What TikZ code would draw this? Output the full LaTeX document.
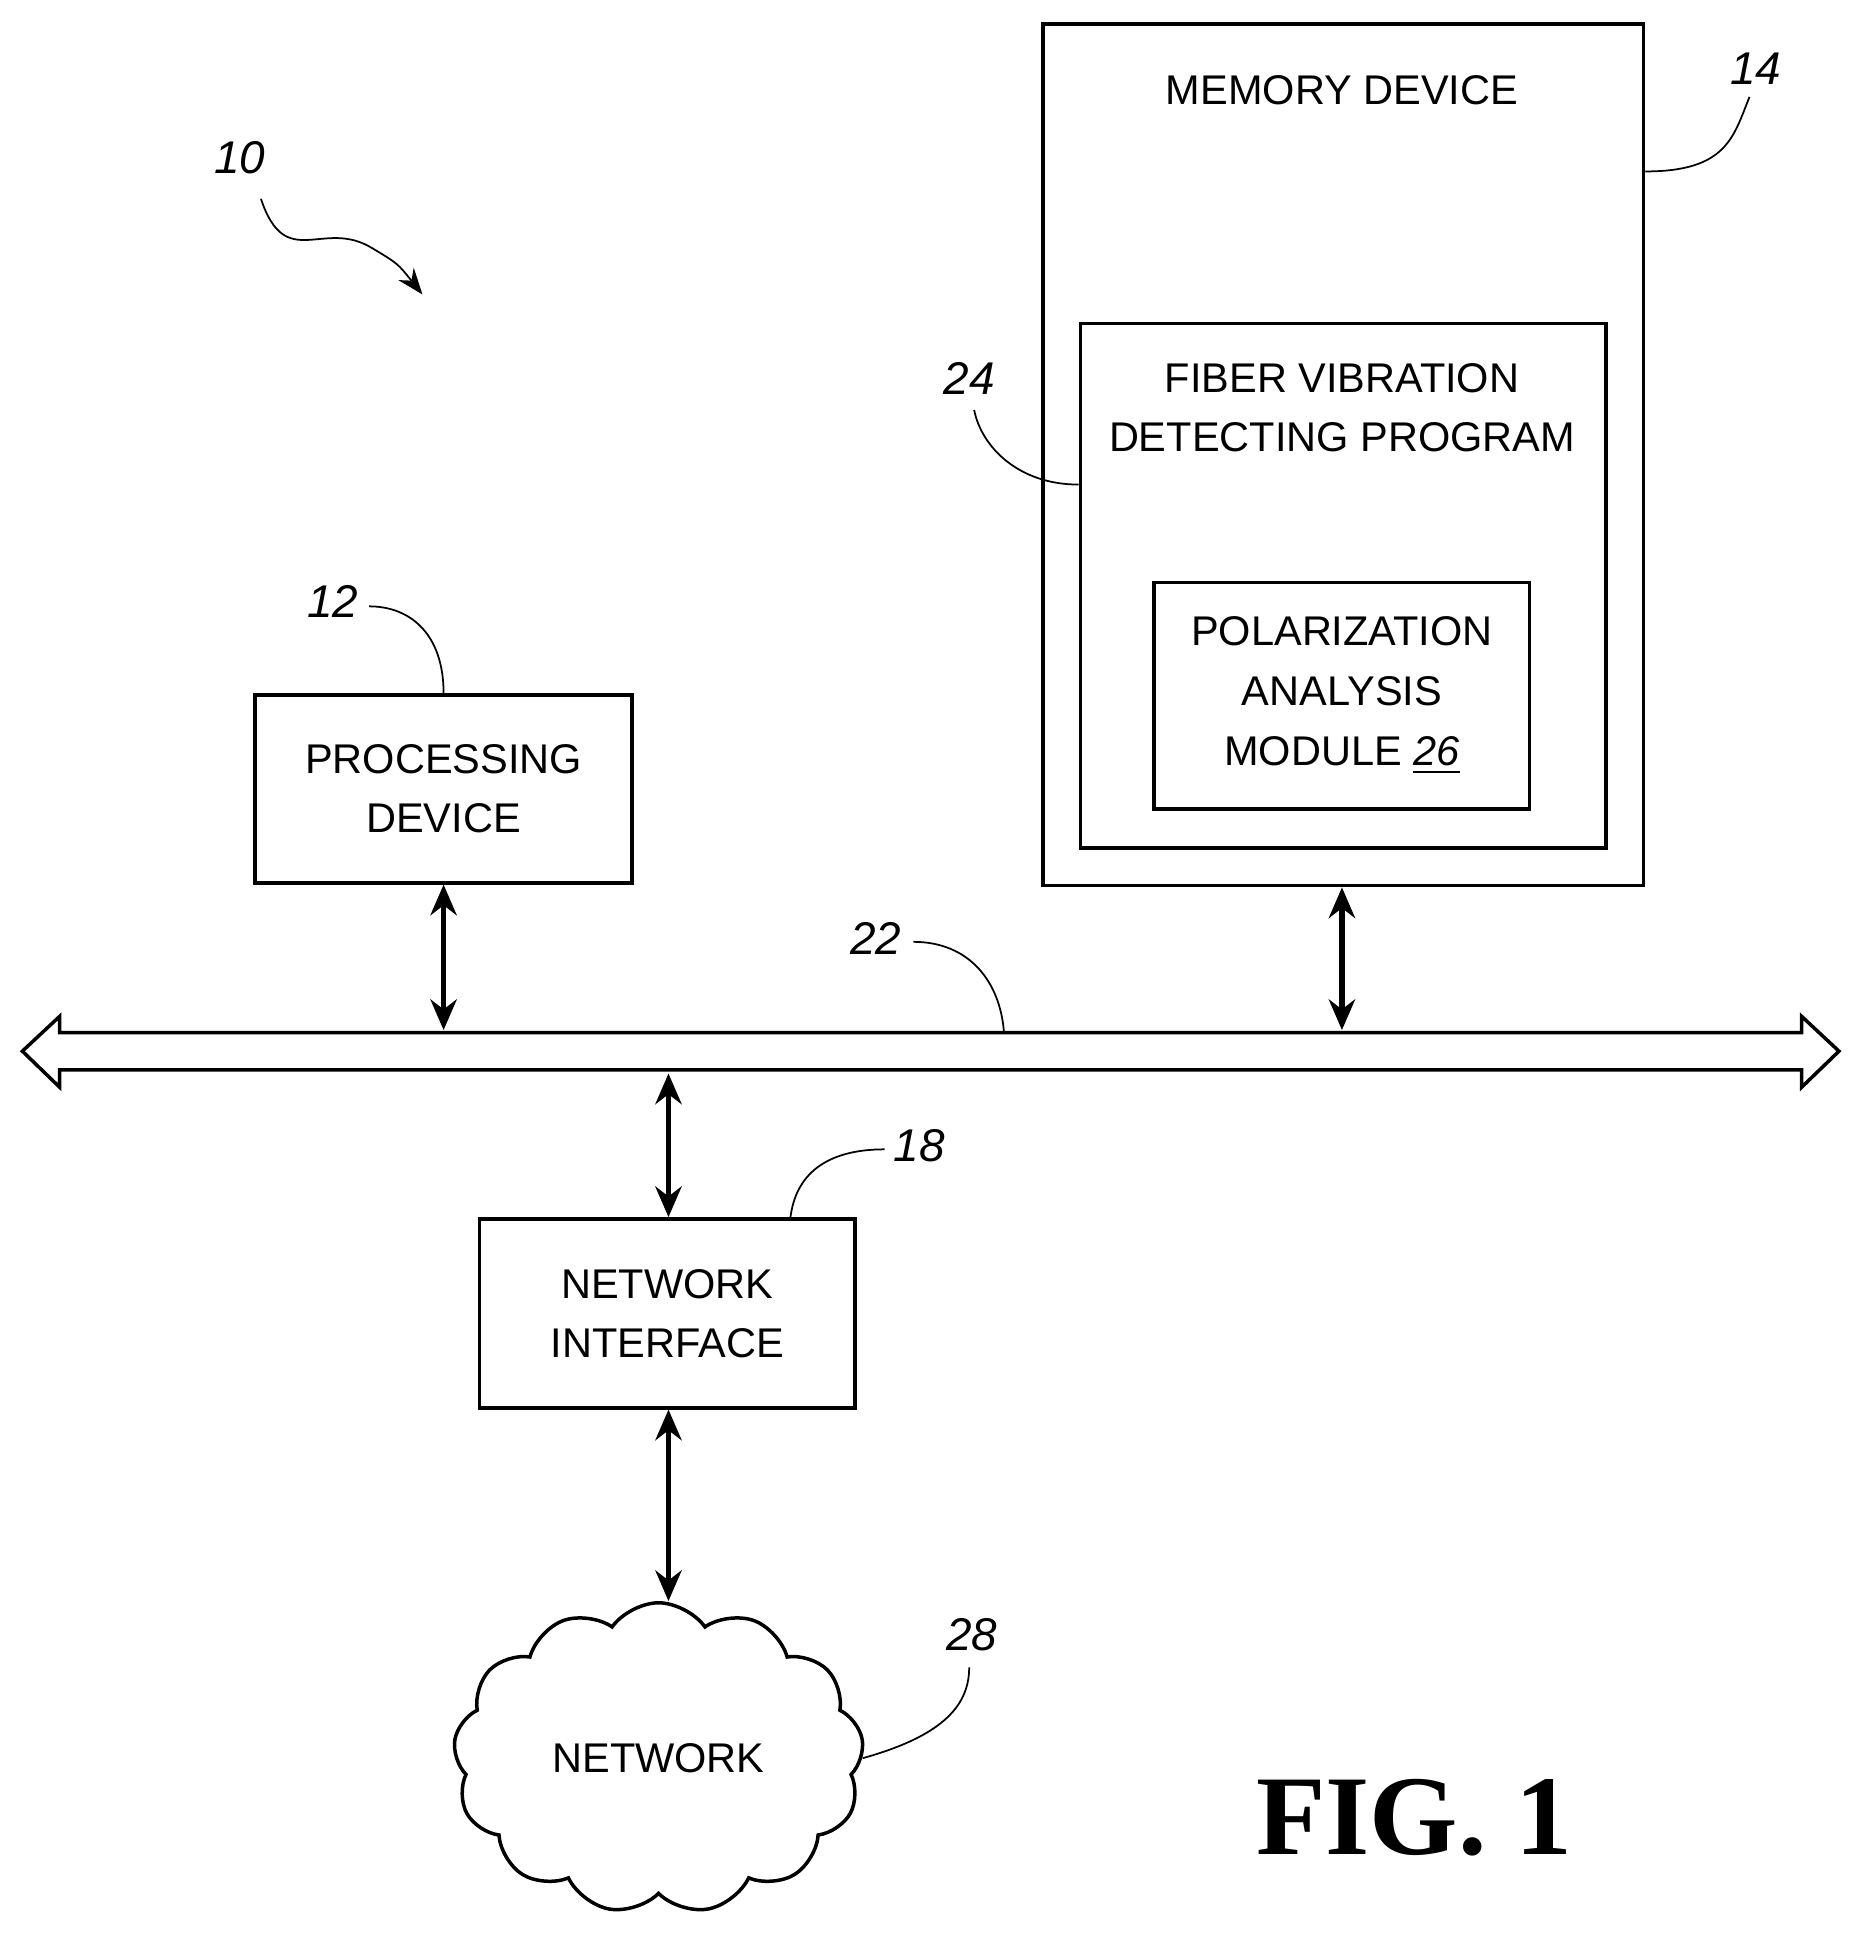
\documentclass[tikz,border=0pt]{standalone}
\usepackage{fontspec}
\setmainfont{Liberation Sans}
\newfontfamily\figfont{Liberation Serif}
\usetikzlibrary{shapes.symbols,arrows.meta}
\tikzset{
  box/.style={draw, thick, inner sep=0pt, align=center, font=\fontsize{9.5}{13.5}\selectfont},
  refnum/.style={font=\fontsize{10.5}{12}\selectfont\itshape},
  lead/.style={thin},
  link/.style={very thick, {Stealth[length=7pt,width=6pt]}-{Stealth[length=7pt,width=6pt]}}
}
\begin{document}
\begin{tikzpicture}[x=0.01cm, y=-0.01cm]
	\useasboundingbox (0,0) rectangle (1500,1571);
	% boxes
	\node[box, minimum width=4.83cm, minimum height=6.93cm, anchor=north west] (mem) at (838,18) {};
	\node[font=\fontsize{9.5}{13.5}\selectfont] (memtxt) at (1080,73) {MEMORY DEVICE};
	\node[box, minimum width=4.23cm, minimum height=4.22cm, anchor=north west] (fvd) at (868,259) {};
	\node[align=center, font=\fontsize{9.5}{13.5}\selectfont, anchor=north] (fvdtxt) at (1080,280) {FIBER VIBRATION\\DETECTING PROGRAM};
	\node[box, minimum width=3.02cm, minimum height=1.82cm, font=\fontsize{9.5}{13.7}\selectfont] (pam) at (1080,560) {POLARIZATION\\ANALYSIS\\MODULE \underline{\itshape 26}};
	\node[box, minimum width=3.03cm, minimum height=1.51cm] (proc) at (357,635) {PROCESSING\\DEVICE};
	\node[box, minimum width=3.02cm, minimum height=1.52cm] (nif) at (537,1057) {NETWORK\\INTERFACE};
	\node[cloud, draw, thick, cloud puffs=13, cloud puff arc=110, aspect=1.3, minimum width=3.3cm, minimum height=2.5cm, font=\fontsize{9.5}{13.5}\selectfont] (net) at (530,1415) {NETWORK};
	% bus
	\draw[thick] (18,846) -- (48,818) -- (48,831) -- (1450,831) -- (1450,818) -- (1480,846)
		-- (1450,875) -- (1450,861) -- (48,861) -- (48,875) -- cycle;
	\coordinate (bprocA) at (357,829);
	\coordinate (bmemA) at (1080,829);
	\coordinate (bnifA) at (538,864);
	\draw[link] (proc.south) -- (bprocA);
	\draw[link] (mem.south -| bmemA) -- (bmemA);
	\draw[link] (bnifA) -- (nif.north -| bnifA);
	\draw[link] (nif.south -| bnifA) -- (net.north -| bnifA);
	% reference numerals
	\node[refnum] (n10) at (193,127) {10};
	\draw[lead, -{Stealth[length=6pt]}] (210,160) .. controls (230,220) and (260,175) .. (300,200) .. controls (320,212) .. (340,237);
	\node[refnum] (n14) at (1413,55) {14};
	\draw[lead] (mem.east |- 0,138) .. controls (1390,138) and (1395,110) .. (1408,78);
	\node[refnum] (n24) at (780,305) {24};
	\draw[lead] (fvd.west |- 0,390) .. controls (820,390) and (790,360) .. (784,330);
	\node[refnum] (n12) at (268,484) {12};
	\draw[lead] (proc.north) .. controls (357,510) and (330,488) .. (297,488);
	\node[refnum] (n22) at (705,755) {22};
	\draw[lead] (808,831) .. controls (805,790) and (780,758) .. (735,758);
	\node[refnum] (n18) at (740,922) {18};
	\draw[lead] (636,981) .. controls (640,945) and (665,925) .. (712,925);
	\node[refnum] (n28) at (782,1316) {28};
	\draw[lead] (net.east) .. controls (755,1398) and (780,1375) .. (780,1342);
	\node[font=\figfont\bfseries\fontsize{26}{30}\selectfont] (fig) at (1138,1463) {FIG. 1};
\end{tikzpicture}
\end{document}
